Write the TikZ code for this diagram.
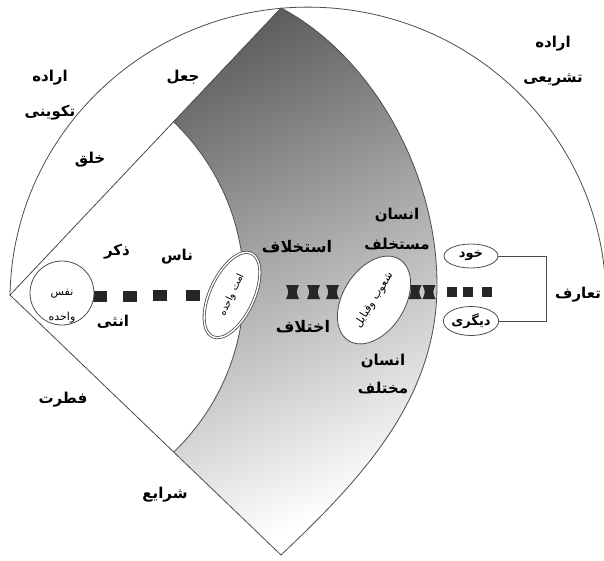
\documentclass[tikz,border=0pt]{standalone}
\usepackage{fontspec}
\usetikzlibrary{shapes.geometric}
\newfontfamily\fa[Script=Arabic]{DejaVu Sans}
\TeXXeTstate=1
\newcommand{\rl}[1]{\beginR #1\endR}
\newcommand{\grayband}{(apex) -- (top) .. controls (370,55) and (437,170) .. (mid)
    .. controls (437,400) and (360,480) .. (bot) -- cycle}

\begin{document}
\begin{tikzpicture}[x=1pt,y=-1pt,
    edge/.style={draw=black!70, line width=0.8pt},
    lbl/.style={font=\fa\bfseries\fontsize{15}{18}\selectfont, inner sep=1pt},
    small/.style={font=\fa\fontsize{11}{13}\selectfont},
    oval/.style={ellipse, edge, fill=white, inner sep=0pt},
    bar/.style={fill=black!85}]

    \useasboundingbox (0,0) rectangle (604,560);

    \coordinate (apex) at (10,295);
    \coordinate (top) at (281,8);
    \coordinate (mid) at (437,285);
    \coordinate (bot) at (281,555);

    % shaded band
    \shade[top color=black!68, middle color=black!22, bottom color=white, shading angle=25] \grayband;
    \begin{scope}
        \clip \grayband;
        \fill[white] (15,287) circle[radius=229];
        \draw[edge] (15,287) circle[radius=229];
    \end{scope}

    % outline
    \draw[edge] (apex) arc[start angle=181, end angle=356, x radius=298, y radius=293];
    \draw[edge] (top) -- (apex) -- (bot);
    \draw[edge] (top) .. controls (370,55) and (437,170) .. (mid)
        .. controls (437,400) and (360,480) .. (bot);

    % bar
    \foreach \x/\y in {100/296.5, 130/296, 160/295.5, 193/295}
        \fill[bar] ({\x-7},{\y-5.5}) rectangle ({\x+7},{\y+5.5});
    \foreach \x in {292.5, 313.5, 332.5, 415, 429}
        \fill[bar] ({\x-6.5},285) -- ({\x+6.5},285) .. controls ({\x+3.5},292) .. ({\x+6.5},299)
            -- ({\x-6.5},299) .. controls ({\x-3.5},292) .. cycle;
    \foreach \x in {452, 468, 487}
        \fill[bar] ({\x-5},286.5) rectangle ({\x+5},296.5);

    % ovals
    \node[oval, circle, minimum size=64] (nafs) at (62,293) {};
    \node[small, align=center] (nafstext) at (62,306) {\rl{نفس}\\[12pt]\rl{واحده}};
    \node[oval, double, double distance=1.4pt, minimum width=92, minimum height=44,
        rotate=65, font=\fa\fontsize{10}{12}\selectfont] (ommat) at (232,295) {\rl{امت واحده}};
    \node[oval, minimum width=96, minimum height=62, rotate=58, small] (shoub) at (374,300)
        {\rl{شعوب وقبایل}};
    \node[oval, minimum width=54, minimum height=24, font=\fa\bfseries\fontsize{13}{15}\selectfont]
        (khod) at (471,256) {\rl{خود}};
    \node[oval, minimum width=54, minimum height=29, font=\fa\bfseries\fontsize{13}{15}\selectfont]
        (digari) at (471,321) {\rl{دیگری}};
    \draw[edge] (khod.east) -- ++(48,0) |- (digari.east);

    % labels
    \node[lbl, align=center] (takvini) at (50,95) {\rl{اراده}\\[17pt]\rl{تکوینی}};
    \node[lbl, align=center] (tashrii) at (553,61) {\rl{اراده}\\[17pt]\rl{تشریعی}};
    \node[lbl] (jaal) at (183,77) {\rl{جعل}};
    \node[lbl] (khalq) at (90,160) {\rl{خلق}};
    \node[lbl] (zakar) at (117,252) {\rl{ذکر}};
    \node[lbl] (nas) at (177,257) {\rl{ناس}};
    \node[lbl] (onsa) at (113,322) {\rl{انثی}};
    \node[lbl, font=\fa\bfseries\fontsize{16}{18}\selectfont] (estekhlaf) at (297,247) {\rl{استخلاف}};
    \node[lbl, font=\fa\bfseries\fontsize{16}{18}\selectfont] (ekhtelaf) at (303,327) {\rl{اختلاف}};
    \node[lbl, align=center] (mostakhlef) at (397,229) {\rl{انسان}\\[12pt]\rl{مستخلف}};
    \node[lbl, align=center] (mokhtalef) at (383,374) {\rl{انسان}\\[10pt]\rl{مختلف}};
    \node[lbl] (fetrat) at (63,400) {\rl{فطرت}};
    \node[lbl] (sharaye) at (165,495) {\rl{شرایع}};
    \node[lbl] (taaruf) at (578,295) {\rl{تعارف}};

\end{tikzpicture}
\end{document}
